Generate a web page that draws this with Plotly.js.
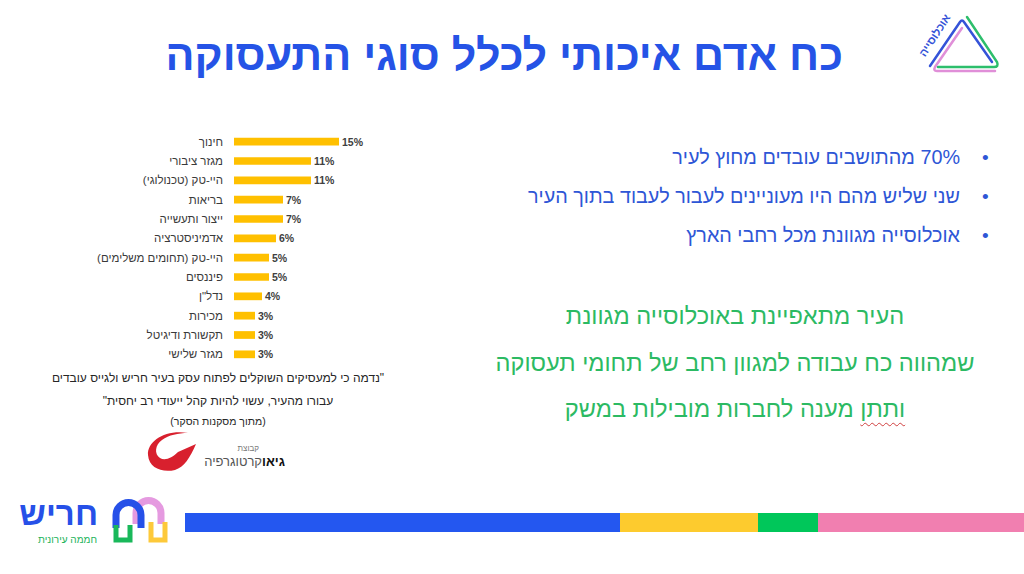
<!DOCTYPE html>
<html><head><meta charset="utf-8">
<script src="https://cdn.plot.ly/plotly-3.0.1.min.js"></script>
<style>
html,body{margin:0;padding:0;width:1024px;height:574px;overflow:hidden;background:#fff;font-family:'Liberation Sans',Arial,sans-serif;}
#chart{position:absolute;left:0;top:0;width:1024px;height:574px;}
.t{position:absolute;white-space:nowrap;direction:rtl;line-height:1;}
.c{text-align:center;}
svg.deco{position:absolute;left:0;top:0;}
</style></head><body>
<div id="chart"></div>

<!-- title -->
<div class="t" style="right:181px;top:34px;font-size:43px;font-weight:bold;color:#2553E6;">כח אדם איכותי לכלל סוגי התעסוקה</div>

<!-- bullets -->
<div class="t" style="right:64px;top:148px;font-size:19.8px;color:#2E56D6;">70% מהתושבים עובדים מחוץ לעיר</div>
<div class="t" style="right:64px;top:187px;font-size:19.8px;color:#2E56D6;">שני שליש מהם היו מעוניינים לעבור לעבוד בתוך העיר</div>
<div class="t" style="right:64px;top:226px;font-size:19.8px;color:#2E56D6;">אוכלוסייה מגוונת מכל רחבי הארץ</div>
<div class="t" style="left:982px;top:148px;font-size:19px;color:#2E56D6;">•</div>
<div class="t" style="left:982px;top:187px;font-size:19px;color:#2E56D6;">•</div>
<div class="t" style="left:982px;top:226px;font-size:19px;color:#2E56D6;">•</div>

<!-- green statement -->
<div class="t c" style="left:465px;width:540px;top:305px;font-size:23.6px;color:#2CBA63;">העיר מתאפיינת באוכלוסייה מגוונת</div>
<div class="t c" style="left:465px;width:540px;top:352px;font-size:23.6px;color:#2CBA63;">שמהווה כח עבודה למגוון רחב של תחומי תעסוקה</div>
<div class="t c" style="left:465px;width:540px;top:398px;font-size:23.6px;color:#2CBA63;"><span style="text-decoration:underline wavy #d04040;text-decoration-thickness:1px;text-underline-offset:5px;">ותתן</span> מענה לחברות מובילות במשק</div>

<!-- quote -->
<div class="t c" style="left:18px;width:400px;top:372px;font-size:12px;color:#262626;">"נדמה כי למעסיקים השוקלים לפתוח עסק בעיר חריש ולגייס עובדים</div>
<div class="t c" style="left:18px;width:400px;top:395px;font-size:12px;color:#262626;">עבורו מהעיר, עשוי להיות קהל ייעודי רב יחסית"</div>
<div class="t c" style="left:18px;width:400px;top:416px;font-size:10.5px;color:#262626;">(מתוך מסקנות הסקר)</div>

<!-- source logo text -->
<div class="t" style="right:765px;top:445px;font-size:8px;color:#777;">קבוצת</div>
<div class="t" style="right:739px;top:455px;font-size:13px;color:#555;"><b style="color:#111;">גיאו</b>קרטוגרפיה</div>

<!-- harish logo text -->
<div class="t" style="right:926px;top:497px;font-size:33px;font-weight:bold;color:#2650E8;">חריש</div>
<div class="t" style="right:927px;top:535px;font-size:10px;color:#21B35A;">חממה עירונית</div>

<!-- top-right logo text -->
<div class="t" style="left:910px;top:30px;width:50px;text-align:center;font-size:11px;font-weight:bold;color:#3553D8;transform:rotate(-57deg);transform-origin:50% 50%;">אוכלוסייה</div>

<svg class="deco" width="1024" height="574">
  <!-- bottom stripe -->
  <rect x="185" y="513" width="435" height="19" fill="#2457F0"/>
  <rect x="620" y="513" width="138" height="19" fill="#FDCB2E"/>
  <rect x="758" y="513" width="60" height="19" fill="#00C75A"/>
  <rect x="818" y="513" width="206" height="19" fill="#F17FB0"/>
  <!-- harish arches -->
  <path d="M136,524 V513 A12.5,12.5 0 0 1 161,513 V524" fill="none" stroke="#E59AE0" stroke-width="7"/>
  <path d="M116,528 V515 A12.5,12.5 0 0 1 141,515 V528" fill="none" stroke="#2650E8" stroke-width="7"/>
  <path d="M116,525 V540 H130 V525" fill="none" stroke="#19B85A" stroke-width="5"/>
  <path d="M151,522 V540 H165 V522" fill="none" stroke="#FDC93A" stroke-width="5"/>
  <!-- top-right triangle -->
  <path d="M930,66 L960,22 Q962,19 964,22 L992,62" fill="none" stroke="#3553D8" stroke-width="2.5" stroke-linecap="round"/>
  <path d="M967,17 L997,62 Q999,67 994,67 L938,67" fill="none" stroke="#2DBE6C" stroke-width="2.5" stroke-linecap="round"/>
  <path d="M962,28 L935,67 Q933,71 937,71 L995,71" fill="none" stroke="#E08FD8" stroke-width="2.5" stroke-linecap="round"/>
  <!-- red swoosh -->
  <path d="M188,433 C166,429 147,441 148,455 C149,468 162,473 175,470 C184,467 190,458 196,444 L178,452 C172,458 165,461 160,458 C154,454 155,445 162,440 C169,435 178,433 188,433 Z" fill="#D8202E"/>
</svg>

<script>
const categories = ['חינוך','מגזר ציבורי','היי-טק (טכנולוגי)','בריאות','ייצור ותעשייה','אדמיניסטרציה','היי-טק (תחומים משלימים)','פיננסים','נדל"ן','מכירות','תקשורת ודיגיטל','מגזר שלישי'];
const shares = [15,11,11,7,7,6,5,5,4,3,3,3];
const tickLabels = categories.map(c => '\u200F' + c + '\u200F');
const valueLabels = shares.map(v => '<b>' + v + '%</b>');

const trace = {
  type: 'bar',
  orientation: 'h',
  x: shares,
  y: categories,
  width: 0.4,
  marker: {color: '#FFC000'},
  text: valueLabels,
  textposition: 'outside',
  constraintext: 'none',
  cliponaxis: false,
  textfont: {family: 'Liberation Sans, Arial, sans-serif', size: 10.5, color: '#404040'},
  hoverinfo: 'none'
};

const layout = {
  width: 1024, height: 574,
  margin: {l: 234, r: 650, t: 132, b: 210, pad: 0},
  paper_bgcolor: 'rgba(0,0,0,0)',
  plot_bgcolor: 'rgba(0,0,0,0)',
  showlegend: false,
  font: {family: 'Liberation Sans, Arial, sans-serif'},
  xaxis: {range: [0, 20], visible: false, fixedrange: true},
  yaxis: {
    type: 'category',
    categoryorder: 'array', categoryarray: categories,
    tickvals: categories, ticktext: tickLabels,
    range: [11.5, -0.5],
    showline: false, showgrid: false, zeroline: false, ticks: '',
    ticklabelstandoff: 10,
    tickfont: {size: 11.5, color: '#3a3a3a'},
    fixedrange: true
  }
};

Plotly.newPlot('chart', [trace], layout, {displayModeBar: false, staticPlot: true});
</script>
</body></html>
